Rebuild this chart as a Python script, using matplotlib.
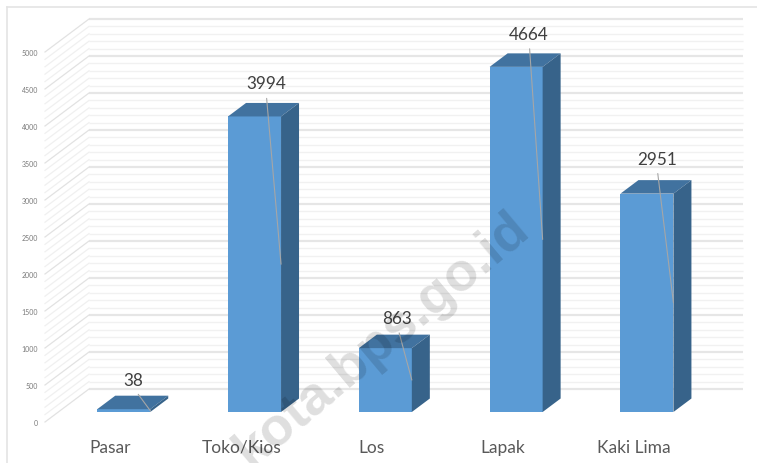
import matplotlib
matplotlib.use("Agg")
import matplotlib.pyplot as plt
from matplotlib.lines import Line2D

categories = ["Pasar", "Toko/Kios", "Los", "Lapak", "Kaki Lima"]
values = [38, 3994, 863, 4664, 2951]
y_ticks = [0, 500, 1000, 1500, 2000, 2500, 3000, 3500, 4000, 4500, 5000]

W, H, DPI = 757, 464, 100
fig = plt.figure(figsize=(W / DPI, H / DPI), dpi=DPI, facecolor="white")
# axes = the front plane of the oblique 3-D box
L, R, B, T = 45, 699, 423, 53
ax = fig.add_axes([L / W, 1 - B / H, (R - L) / W, (B - T) / H])
ax.set_xlim(-0.5, 4.5)
ax.set_ylim(0, 5000)
for s in ax.spines.values():
    s.set_visible(False)
ax.patch.set_visible(False)

PX_X = 5.0 / (R - L)
PX_Y = 5000.0 / (B - T)
DEPTH_X, DEPTH_Y = 44, 33


def proj(x, v, d):
    """Oblique projection: d=0 front plane, d=1 back wall."""
    return x + d * DEPTH_X * PX_X, v + d * DEPTH_Y * PX_Y


# walls
for v in range(0, 5001, 100):
    major = v % 500 == 0
    col = "#e6e6e6" if major else "#f1f1f1"
    lw = 1.6 if major else 1.0
    x0, y0 = proj(-0.5, v, 1)
    x1, y1 = proj(4.5, v, 1)
    ax.plot([x0, x1], [y0, y1], color=col, lw=lw, clip_on=False, zorder=1, solid_capstyle="butt")
    x2, y2 = proj(-0.5, v, 0)
    ax.plot([x2, x0], [y2, y0], color="#e2e2e2" if major else "#f0f0f0", lw=0.9,
            clip_on=False, zorder=1)

# bars
D0, D1 = 10 / 33, 23.5 / 33
BW = 53 * PX_X
FRONT, TOP, SIDE = "#5B9BD5", "#41729F", "#37638A"
for i, v in enumerate(values):
    xa, ya0 = proj(i - BW / 2, 0, D0)
    xb, ya1 = proj(i + BW / 2, v, D0)
    ax.bar(xa, ya1 - ya0, BW, bottom=ya0, align="edge", color=FRONT, zorder=3, clip_on=False)
    corners_top = [proj(i - BW / 2, v, D0), proj(i + BW / 2, v, D0),
                   proj(i + BW / 2, v, D1), proj(i - BW / 2, v, D1)]
    ax.fill(*zip(*corners_top), color=TOP, lw=0, zorder=4, clip_on=False)
    corners_side = [proj(i + BW / 2, 0, D0), proj(i + BW / 2, v, D0),
                    proj(i + BW / 2, v, D1), proj(i + BW / 2, 0, D1)]
    ax.fill(*zip(*corners_side), color=SIDE, lw=0, zorder=4, clip_on=False)

# value labels with leader lines
nudges = [(10, 29), (11.5, 33), (12, 30), (13, 33), (10, 35)]
for i, v in enumerate(values):
    xt, yt = proj(i, v, D0)
    xa, ya = proj(i + BW / 2, v / 2, D0)
    nx, ny = nudges[i]
    xl, yl = xt + nx * PX_X, yt + ny * PX_Y
    ax.annotate(str(v), xy=(xa, ya), xytext=(xl, yl), xycoords="data", textcoords="data",
                ha="center", va="center", fontsize=12.3, family="Lato", color="#404040",
                zorder=6, annotation_clip=False,
                arrowprops=dict(arrowstyle="-", color="#a6a6a6", lw=0.8, shrinkA=3, shrinkB=0,
                                relpos=(0.5, 0)))

# axes text
ax.set_yticks(y_ticks)
ax.set_yticklabels([str(t) for t in y_ticks], fontsize=5, color="#7a7a7a", family="Lato")
ax.set_xticks(range(len(categories)))
ax.set_xticklabels(categories, fontsize=12.5, color="#595959", family="Lato")
ax.tick_params(axis="y", length=0, pad=5)
ax.tick_params(axis="x", length=0, pad=12)

# screenshot frame
fig.add_artist(Line2D([7 / W, 1], [1 - 8 / H, 1 - 8 / H], color="#e4e4e4", lw=1.2))
fig.add_artist(Line2D([7 / W, 7 / W], [0, 1 - 8 / H], color="#e4e4e4", lw=1.2))

# watermark
fig.text(382 / W, 1 - 340 / H, "kota.bps.go.id", fontsize=39, fontweight="bold",
         family="Liberation Sans", color="black", alpha=0.13, rotation=40,
         ha="center", va="center", rotation_mode="anchor", zorder=10)

fig.savefig("out.png", dpi=DPI, facecolor="white")
